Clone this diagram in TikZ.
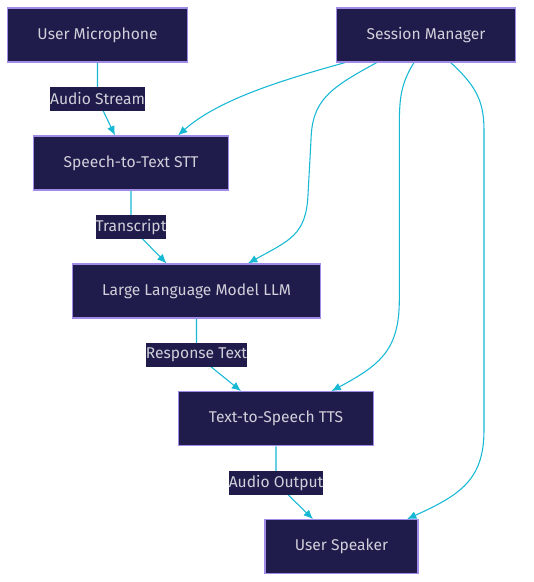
\documentclass[tikz,border=0pt]{standalone}
\usepackage{fontspec}
\setmainfont{Fira Sans}
\usetikzlibrary{arrows.meta,calc}
\definecolor{boxfill}{RGB}{31,28,75}
\definecolor{boxline}{RGB}{160,140,230}
\definecolor{boxtext}{RGB}{208,208,218}
\definecolor{flow}{RGB}{22,184,212}
\pgfdeclarelayer{edges}
\pgfsetlayers{edges,main}

\begin{document}
\begin{tikzpicture}[x=0.75pt, y=-0.75pt, >={Latex[length=7pt,width=6pt]}, font=\fontsize{11.7}{14}\selectfont]
\tikzstyle{box}=[draw=boxline, fill=boxfill, text=boxtext, line width=0.9pt, minimum height=40.5pt, inner xsep=22.5pt]
\tikzstyle{tag}=[fill=boxfill, text=boxtext, inner xsep=0pt, inner ysep=0pt, minimum height=17.5pt]
\tikzstyle{flowline}=[->, draw=flow, line width=0.8pt]
\useasboundingbox (0,0) rectangle (534,582);

\node[box] (mic)     at (97.5,35)    {User Microphone};
\node[box] (session) at (426,35)     {Session Manager};
\node[box] (stt)     at (131,163)    {Speech-to-Text STT};
\node[box] (llm)     at (196.5,291)  {Large Language Model LLM};
\node[box] (tts)     at (276,418.7)  {Text-to-Speech TTS};
\node[box] (speaker) at (341.5,546.7) {User Speaker};

% labels sit half way down each step
\node[tag] (audio)    at (97.5,99)  {Audio Stream};
\node[tag] (script)   at (131,227)  {Transcript};
\node[tag] (reply)    at (196.5,355) {Response Text};
\node[tag] (voice)    at (276,483)  {Audio Output};

\begin{pgfonlayer}{edges}
% main pipeline
\draw[flowline] (mic.south) -- (audio.center) -- ($(stt.north)+(-16,0)$);
\draw[flowline] (stt.south) -- (script.center) -- ($(llm.north)+(-30,0)$);
\draw[flowline] (llm.south) -- (reply.center) -- ($(tts.north)+(-35,0)$);
\draw[flowline] (tts.south) -- (voice.center) -- ($(speaker.north)+(-28.5,0)$);
% session manager links
\draw[flowline] ($(session.south)+(-81,0)$) .. controls (290,78) and (220,98) .. ($(stt.north)+(47,0)$);
\draw[flowline] ($(session.south)+(-49.3,0)$) .. controls (330,88) and (312,100) .. (311,140)
    -- (308,195) .. controls (306,235) and (290,240) .. ($(llm.north)+(51.5,0)$);
\draw[flowline] ($(session.south)+(-12,0)$) .. controls (400,85) and (399.3,100) .. (399.3,130)
    -- (399.3,300) .. controls (399.3,350) and (380,365) .. ($(tts.north)+(55.5,0)$);
\draw[flowline] ($(session.south)+(24.7,0)$) .. controls (475,85) and (484,100) .. (484,130)
    -- (484,430) .. controls (484,480) and (460,495) .. ($(speaker.north)+(65.5,0)$);
\end{pgfonlayer}
\end{tikzpicture}
\end{document}
